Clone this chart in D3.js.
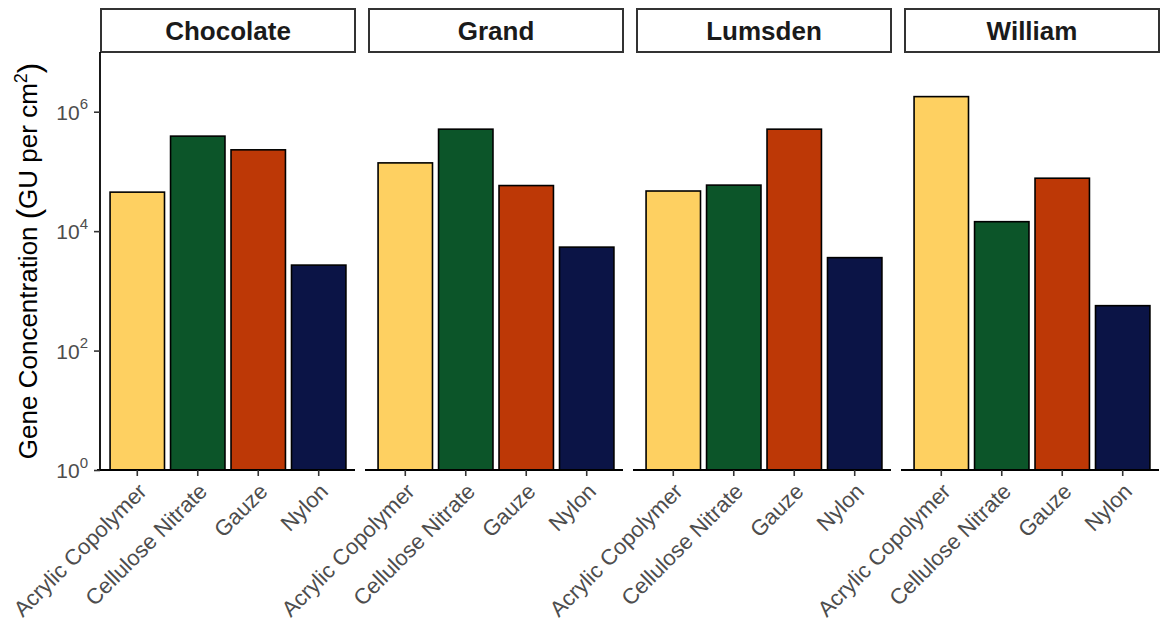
<!DOCTYPE html>
<html>
<head>
<meta charset="utf-8">
<script src="https://cdn.jsdelivr.net/npm/d3@7"></script>
<style>
  html, body { margin: 0; padding: 0; background: #fff; }
  svg { display: block; font-family: "Liberation Sans", Arial, sans-serif; }
</style>
</head>
<body>
<svg id="chart" width="1161" height="625"></svg>
<script>
// Sites (facets) and sampler materials
const sites = ["Chocolate", "Grand", "Lumsden", "William"];
const materials = ["Acrylic Copolymer", "Cellulose Nitrate", "Gauze", "Nylon"];
const materialColors = ["#FED061", "#0C5529", "#BD3806", "#0B1446"];

// Gene concentration (GU per cm^2), one array per site, ordered as materials
const chocolate = [45000, 390000, 230000, 2700];
const grand = [139000, 510000, 58000, 5400];
const lumsden = [47000, 59000, 510000, 3600];
const william = [1790000, 14400, 77000, 565];
const siteValues = [chocolate, grand, lumsden, william];

// Y tick exponents (powers of ten)
const yTickExponents = [0, 2, 4, 6];

const svg = d3.select("#chart");

const panelLeft = 101, panelWidth = 254, panelGap = 14;
const panelTop = 52, panelBottom = 470;
const stripTop = 9;

const y = d3.scaleLog().domain([1, 1e7]).range([panelBottom, panelTop]);
const color = d3.scaleOrdinal().domain(materials).range(materialColors);

sites.forEach((site, i) => {
  const x0 = panelLeft + i * (panelWidth + panelGap);
  const x = d3.scaleBand().domain(materials)
    .range([x0, x0 + panelWidth]).paddingInner(0.1).paddingOuter(0.15);

  const g = svg.append("g");

  // strip
  g.append("rect")
    .attr("x", x0).attr("y", stripTop)
    .attr("width", panelWidth).attr("height", panelTop - stripTop)
    .attr("fill", "#fff").attr("stroke", "#333").attr("stroke-width", 2);
  g.append("text")
    .attr("x", x0 + panelWidth / 2).attr("y", (stripTop + panelTop) / 2)
    .attr("text-anchor", "middle").attr("dominant-baseline", "central")
    .attr("font-size", 26).attr("font-weight", "bold").attr("fill", "#1a1a1a")
    .text(site);

  // bars
  const rows = materials.map((m, j) => ({ material: m, value: siteValues[i][j] }));
  g.selectAll("rect.bar").data(rows).join("rect")
    .attr("class", "bar")
    .attr("x", d => x(d.material))
    .attr("width", x.bandwidth())
    .attr("y", d => y(d.value))
    .attr("height", d => y(1) - y(d.value))
    .attr("fill", d => color(d.material))
    .attr("stroke", "#000").attr("stroke-width", 1.6);

  // x axis
  const xAxis = g.append("g").attr("transform", `translate(0,${panelBottom})`)
    .call(d3.axisBottom(x).tickSize(6).tickSizeOuter(0).tickPadding(4));
  xAxis.select(".domain").attr("stroke", "#000").attr("stroke-width", 1.8)
    .attr("d", `M${x0 - 4},0H${x0 + panelWidth}`);
  xAxis.selectAll(".tick line").attr("stroke", "#333").attr("stroke-width", 1.6);
  xAxis.selectAll(".tick text")
    .attr("font-size", 22).attr("fill", "#4d4d4d")
    .attr("text-anchor", "end")
    .attr("dy", "0.3em")
    .attr("transform", "translate(-1,11) rotate(-45)");
});

// y axis (leftmost panel only)
const yAxis = svg.append("g").attr("transform", `translate(${panelLeft - 1},0)`)
  .call(d3.axisLeft(y).tickValues(yTickExponents.map(e => Math.pow(10, e)))
    .tickSize(6).tickSizeOuter(0).tickPadding(4).tickFormat(""));
yAxis.select(".domain").attr("stroke", "#000").attr("stroke-width", 1.8)
  .attr("d", `M0,${panelTop}V${panelBottom + 1}`);
yAxis.selectAll(".tick line").attr("stroke", "#333").attr("stroke-width", 1.6);
yAxis.selectAll(".tick").each(function (d) {
  const t = d3.select(this).append("text")
    .attr("x", -12).attr("dy", "0.36em")
    .attr("text-anchor", "end").attr("font-size", 21).attr("fill", "#4d4d4d");
  t.append("tspan").text("10");
  t.append("tspan").attr("font-size", 15).attr("dy", "-0.7em")
    .text(Math.round(Math.log10(d)));
});

// y axis title
const title = svg.append("text")
  .attr("transform", `translate(37,${(panelTop + panelBottom) / 2}) rotate(-90)`)
  .attr("text-anchor", "middle").attr("font-size", 26).attr("fill", "#000");
title.append("tspan").text("Gene Concentration ");
title.append("tspan").attr("font-size", 31).attr("dy", "0.05em").text("(");
title.append("tspan").attr("dy", "-0.05em").text("GU per cm");
title.append("tspan").attr("font-size", 18).attr("dy", "-0.55em").text("2");
title.append("tspan").attr("font-size", 31).attr("dy", "0.42em").text(")");
</script>
</body>
</html>
